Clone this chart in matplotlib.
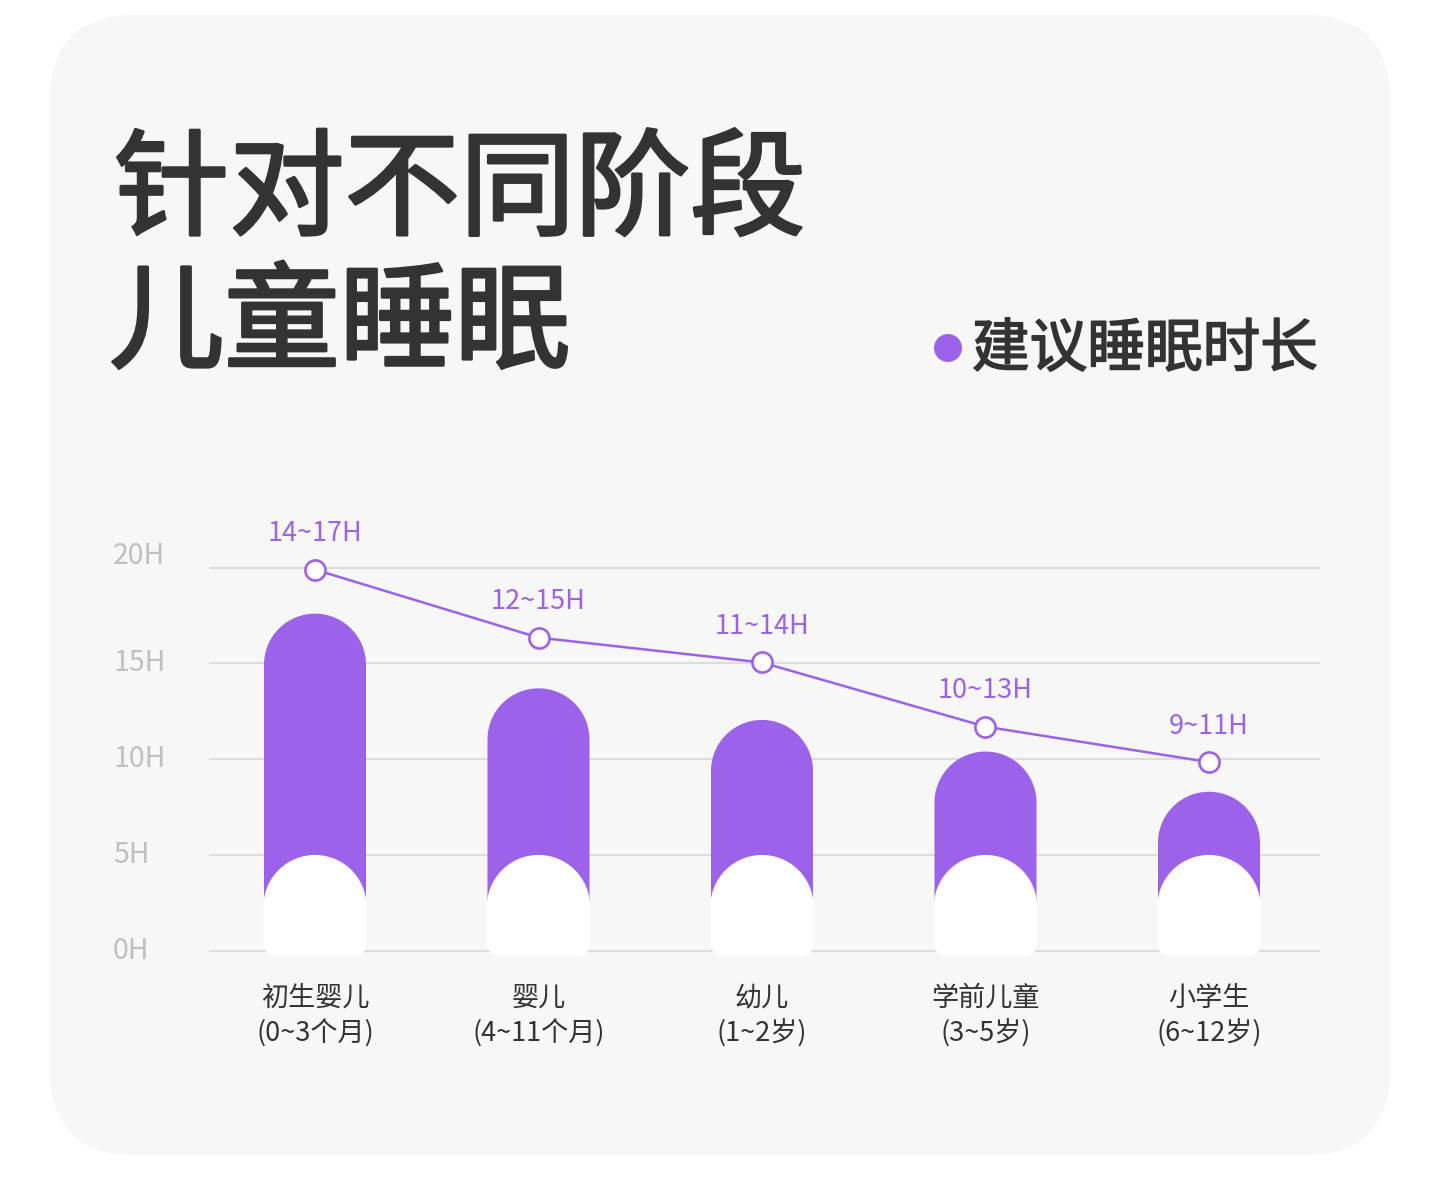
import matplotlib
matplotlib.use('Agg')
import matplotlib.pyplot as plt
import matplotlib.patheffects as pe
import numpy as np
from matplotlib.patches import Polygon, FancyBboxPatch, Circle
from matplotlib.transforms import IdentityTransform, blended_transform_factory

plt.rcParams['font.family'] = ['Noto Sans CJK SC', 'DejaVu Sans']

# ---------------- data ----------------
categories = ['初生婴儿', '婴儿', '幼儿', '学前儿童', '小学生']
age_ranges = ['(0~3个月)', '(4~11个月)', '(1~2岁)', '(3~5岁)', '(6~12岁)']
bar_values = [17.6, 13.7, 12.05, 10.4, 8.3]
line_values = [19.9, 16.35, 15.05, 11.7, 9.85]
value_labels = ['14~17H', '12~15H', '11~14H', '10~13H', '9~11H']
y_ticks = [0, 5, 10, 15, 20]
y_tick_labels = ['0H', '5H', '10H', '15H', '20H']
title_lines = ['针对不同阶段', '儿童睡眠']
legend_label = '建议睡眠时长'

# ---------------- style ----------------
PURPLE = '#9d62ea'
DARK = '#333333'
GRID = '#dddddd'
TICK = '#c0c0c0'
W, H = 1440, 1185
DPI = 100

fig = plt.figure(figsize=(W / DPI, H / DPI), dpi=DPI, facecolor='white')

card = FancyBboxPatch((50, 30), 1340, 1140, boxstyle='round,pad=0,rounding_size=85',
                      transform=IdentityTransform(), facecolor='#f7f7f7',
                      edgecolor='none', zorder=0)
fig.add_artist(card)

# axes geometry (pixels)
ax_left, ax_right, ax_top, ax_bot = 209, 1320, 500, 962
ax = fig.add_axes([ax_left / W, (H - ax_bot) / H, (ax_right - ax_left) / W, (ax_bot - ax_top) / H])
ax.set_facecolor('none')
ax.axis('off')

x_first_px, x_last_px = 315, 1209
y0_px, y20_px = 950.7, 567.7
n = len(categories)
px_per_x = (x_last_px - x_first_px) / (n - 1)
px_per_y = (y0_px - y20_px) / 20.0
ax.set_xlim(-(x_first_px - ax_left) / px_per_x, (n - 1) + (ax_right - x_last_px) / px_per_x)
ax.set_ylim(-(ax_bot - y0_px) / px_per_y, 20 + (y20_px - ax_top) / px_per_y)

p0 = ax.transData.transform((0, 0))
p1 = ax.transData.transform((1, 1))
sx = p1[0] - p0[0]
sy = p1[1] - p0[1]

for yt in y_ticks:
    ax.axhline(yt, color=GRID, lw=1.5, zorder=1)

tick_offsets_px = [0, 0, 0, 0, 12]
ytrans = blended_transform_factory(ax.transAxes, ax.transData)
for yt, lbl, off in zip(y_ticks, y_tick_labels, tick_offsets_px):
    ax.annotate(lbl, (-(ax_left - 113) / (ax_right - ax_left), yt), xycoords=ytrans,
                xytext=(0, off * 72 / DPI), textcoords='offset points',
                ha='left', va='center', fontsize=20.5, color=TICK, annotation_clip=False)


def capsule(xc, half_w, y_bot, y_top, rb_px):
    rx = half_w
    ry = half_w * sx / sy
    t = np.linspace(0, np.pi, 80)
    top = np.column_stack([xc + rx * np.cos(t), y_top - ry + ry * np.sin(t)])
    rbx = rb_px / sx
    rby = rb_px / sy
    t2 = np.linspace(np.pi, 1.5 * np.pi, 20)
    bl = np.column_stack([xc - rx + rbx + rbx * np.cos(t2), y_bot + rby + rby * np.sin(t2)])
    t3 = np.linspace(1.5 * np.pi, 2 * np.pi, 20)
    br = np.column_stack([xc + rx - rbx + rbx * np.cos(t3), y_bot + rby + rby * np.sin(t3)])
    return np.vstack([top, bl, br])


x = np.arange(n)
half_w = 51 / sx
cover_w = 51.6 / sx
bar_bottom = -(956 - y0_px) / px_per_y
base_top = 5.0
for xi, v in zip(x, bar_values):
    ax.add_patch(Polygon(capsule(xi, half_w, bar_bottom + 0.1, v, 12), closed=True,
                         facecolor=PURPLE, edgecolor='none', zorder=2))
    ax.add_patch(Polygon(capsule(xi, cover_w, bar_bottom, base_top, 12), closed=True,
                         facecolor='white', edgecolor='none', zorder=3))

ax.plot(x, line_values, color=PURPLE, lw=1.8, marker='o', ms=14.5, mfc='white',
        mec=PURPLE, mew=1.9, zorder=5, clip_on=False)

for xi, v, lbl in zip(x, line_values, value_labels):
    ax.annotate(lbl, (xi, v), xytext=(0, 36 * 72 / DPI), textcoords='offset points',
                ha='center', va='center', fontsize=19.5, color=PURPLE, annotation_clip=False)

xtrans = blended_transform_factory(ax.transData, fig.transFigure)
for xi, c, r in zip(x, categories, age_ranges):
    ax.text(xi, 1 - 998 / H, c, transform=xtrans, ha='center', va='center',
            fontsize=19.5, color=DARK)
    ax.text(xi, 1 - 1034 / H, r, transform=xtrans, ha='center', va='center',
            fontsize=19.5, color=DARK)

# title
title_fx = [pe.withStroke(linewidth=2.2, foreground=DARK, capstyle='round', joinstyle='round')]
fig.text(114 / W, 1 - 193 / H, title_lines[0], ha='left', va='center',
         fontsize=83, fontweight='medium', color=DARK, path_effects=title_fx)
fig.text(109 / W, 1 - 326 / H, title_lines[1], ha='left', va='center',
         fontsize=83, fontweight='medium', color=DARK, path_effects=title_fx)

# legend
fig.add_artist(Circle((948, H - 348), 14, transform=IdentityTransform(),
                      facecolor=PURPLE, edgecolor='none'))
legend_fx = [pe.withStroke(linewidth=1.2, foreground=DARK, capstyle='round', joinstyle='round')]
fig.text(972 / W, 1 - 350 / H, legend_label, ha='left', va='center',
         fontsize=41.5, fontweight='medium', color=DARK, path_effects=legend_fx)

fig.savefig('out.png', dpi=DPI, facecolor='white')
